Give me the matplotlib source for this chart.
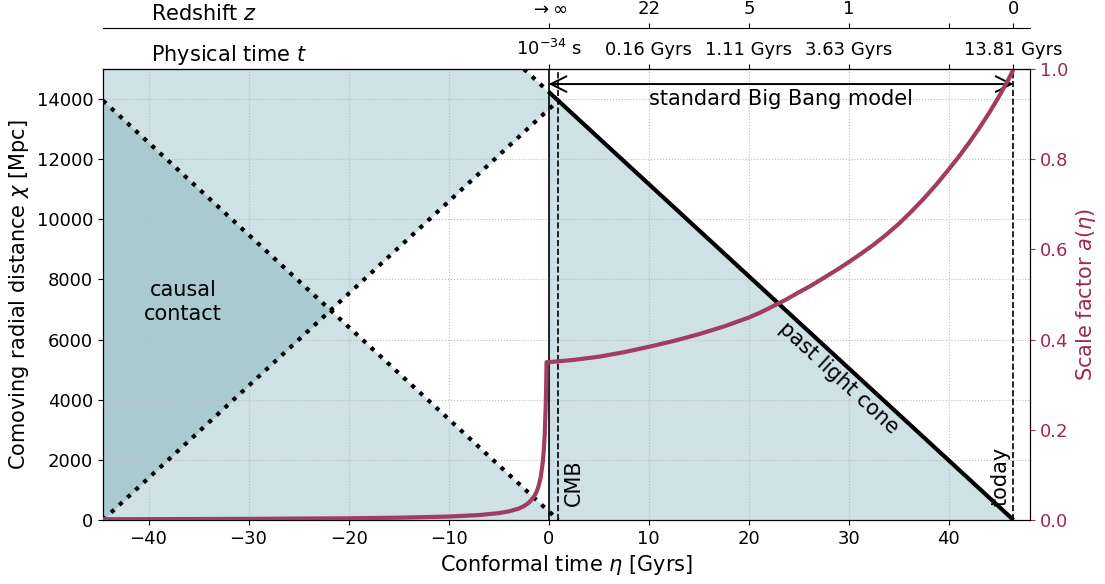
import numpy as np
import matplotlib
matplotlib.use("Agg")
import matplotlib.pyplot as plt

# ---------------- data ----------------
eta_today = 46.45      # conformal time today [Gyrs]
eta_cmb = 0.95         # conformal time of CMB [Gyrs]
chi_top = 15000        # upper limit of comoving distance axis

# our past light cone (solid) : eta [Gyrs], chi [Mpc]
past_cone_eta = [0.0, 46.45]
past_cone_chi = [14240, 0]
# backwards extension of our past light cone (dotted, eta < 0)
past_ext_eta = [-2.48, 0.0]
past_ext_chi = [15000, 14240]
# past light cone of CMB point at chi = 0 (dotted, descending)
cone_a_eta = [-44.55, 0.95]
cone_a_chi = [13950, 0]
# past light cone of CMB point at chi = chi_cmb (dotted, ascending)
cone_b_eta = [-44.55, 0.95]
cone_b_chi = [0, 13950]

# scale factor a(eta)
a_eta = [-44.55, -40, -30, -20, -15, -10, -7, -5, -4, -3, -2.5, -2, -1.5, -1.2, -1.0,
         -0.8, -0.6, -0.5, -0.4, -0.3, -0.25, -0.217, 0.0,
         2.5, 5, 7.5, 10, 12.5, 15, 17.5, 20, 21.25, 22.5, 23.75, 25, 26.25, 27.5,
         28.75, 30, 31.25, 32.5, 33.75, 35, 36.25, 37.5, 38.75, 40,
         41, 42, 43, 44, 45, 46, 46.45]
a_val = [0.0017, 0.0019, 0.0025, 0.0038, 0.0051, 0.0076, 0.0109, 0.0152, 0.019, 0.0253,
         0.0304, 0.038, 0.0507, 0.0633, 0.076, 0.095, 0.127, 0.152, 0.19, 0.253, 0.304,
         0.35, 0.35,
         0.355, 0.362, 0.372, 0.384, 0.397, 0.412, 0.429, 0.449, 0.461, 0.475, 0.489,
         0.505, 0.520, 0.537, 0.554, 0.572, 0.591, 0.611, 0.633, 0.657, 0.684, 0.713,
         0.744, 0.778, 0.806, 0.836, 0.868, 0.902, 0.939, 0.979, 1.0]

# top axes ticks
top_tick_eta = [0, 10, 20, 30, 40, 46.45]
time_labels = [r'10$^{-34}$ s', '0.16 Gyrs', '1.11 Gyrs', '3.63 Gyrs', '', '13.81 Gyrs']
z_labels = [r'$\rightarrow\infty$', '22', '5', '1', '', '0']

xlim = (-44.55, 48.1)
crimson = '#a33c62'
crimson_txt = '#9b2a55'
shade = '#2e8192'
shade_alpha = 0.23

plt.rcParams['font.family'] = ['DejaVu Sans']
plt.rcParams['font.size'] = 13

fig = plt.figure(figsize=(11.05, 5.84), dpi=100)
ax = fig.add_axes([0.0932, 0.1096, 0.8389, 0.7722])
ax.set_xlim(*xlim)
ax.set_ylim(0, chi_top)

# ---------------- shading ----------------
eta_l = np.linspace(xlim[0], 0, 200)
desc = np.interp(eta_l, cone_a_eta, cone_a_chi)
asc = np.interp(eta_l, cone_b_eta, cone_b_chi)
ext = np.interp(eta_l, past_ext_eta, past_ext_chi, left=1e6)
upper = np.minimum(ext, chi_top)
ax.fill_between(eta_l, 0, desc, color=shade, alpha=shade_alpha, lw=0, zorder=0)
ax.fill_between(eta_l, asc, upper, color=shade, alpha=shade_alpha, lw=0, zorder=0)
eta_r = np.linspace(0, past_cone_eta[1], 100)
ax.fill_between(eta_r, 0, np.interp(eta_r, past_cone_eta, past_cone_chi),
                color=shade, alpha=shade_alpha, lw=0, zorder=0)

ax.grid(True, ls=':', color='#bdbdbd', lw=0.8, zorder=0.5)
ax.set_axisbelow(True)

# ---------------- lines ----------------
ax.plot(cone_a_eta, cone_a_chi, ls=':', color='black', lw=3, zorder=3)
ax.plot(cone_b_eta, cone_b_chi, ls=':', color='black', lw=3, zorder=3)
ax.plot(past_ext_eta, past_ext_chi, ls=':', color='black', lw=3, zorder=3)
ax.plot(past_cone_eta, past_cone_chi, color='black', lw=3, zorder=4,
        solid_capstyle='butt')
ax.axvline(0, color='black', lw=1.2, zorder=3)
ax.axvline(eta_cmb, color='black', lw=1.2, ls='--', zorder=3)
ax.axvline(eta_today, color='black', lw=1.2, ls='--', zorder=3)

# arrow for standard Big Bang model
ax.annotate('', xy=(0, 14500), xytext=(eta_today, 14500),
            arrowprops=dict(arrowstyle='<->', color='black', lw=1.4,
                            mutation_scale=28, shrinkA=0, shrinkB=0), zorder=5)
ax.text(eta_today / 2, 14000, 'standard Big Bang model', fontsize=15,
        ha='center', va='center', zorder=5)

ax.text(-36.55, 7250, 'causal\ncontact', fontsize=15, ha='center', va='center',
        multialignment='center', zorder=5)
ax.text(eta_cmb + 0.55, 450, 'CMB', fontsize=15, rotation=90, ha='left', va='bottom',
        zorder=5)
ax.text(eta_today - 0.25, 450, 'today', fontsize=15, rotation=90, ha='right',
        va='bottom', zorder=5)

p0 = ax.transData.transform((past_cone_eta[0], past_cone_chi[0]))
p1 = ax.transData.transform((past_cone_eta[1], past_cone_chi[1]))
ang = np.degrees(np.arctan2(p1[1] - p0[1], p1[0] - p0[0]))
ax.text(28.95, 4722, 'past light cone', fontsize=15, rotation=ang,
        rotation_mode='anchor', ha='center', va='center', zorder=5)

ax.set_xticks([-40, -30, -20, -10, 0, 10, 20, 30, 40])
ax.set_yticks(range(0, 14001, 2000))
ax.set_xlabel(r'Conformal time $\eta$ [Gyrs]', fontsize=15)
ax.set_ylabel(r'Comoving radial distance $\chi$ [Mpc]', fontsize=15)
ax.tick_params(axis='both', labelsize=13)

# ---------------- scale factor axis ----------------
ax2 = ax.twinx()
ax2.set_ylim(0, 1.0)
ax2.plot(a_eta, a_val, color=crimson, lw=3, zorder=3)
ax2.set_ylabel(r'Scale factor $a(\eta)$', color=crimson_txt, fontsize=15)
ax2.tick_params(axis='y', colors=crimson_txt, labelsize=13)
ax2.spines['right'].set_color('black')
ax2.set_yticks([0.0, 0.2, 0.4, 0.6, 0.8, 1.0])

# ---------------- top axes ----------------
ax_t = ax.twiny()
ax_t.set_xlim(*xlim)
ax_t.set_xticks(top_tick_eta)
ax_t.set_xticklabels(time_labels)
ax_t.tick_params(axis='x', labelsize=13)
for s in ['left', 'right', 'bottom']:
    ax_t.spines[s].set_visible(False)
ax_t.yaxis.set_visible(False)

ax_z = ax.twiny()
ax_z.set_xlim(*xlim)
ax_z.set_xticks(top_tick_eta)
ax_z.set_xticklabels(z_labels)
ax_z.tick_params(axis='x', labelsize=13)
ax_z.spines['top'].set_position(('outward', 29.5))
for s in ['left', 'right', 'bottom']:
    ax_z.spines[s].set_visible(False)
ax_z.yaxis.set_visible(False)
ax_z.patch.set_visible(False)
ax_t.patch.set_visible(False)

fig.text(151 / 1105, 1 - 55 / 584, r'Physical time $t$', fontsize=15, ha='left', va='center')
fig.text(151 / 1105, 1 - 14 / 584, r'Redshift $z$', fontsize=15, ha='left', va='center')

fig.savefig('out.png', dpi=100)
